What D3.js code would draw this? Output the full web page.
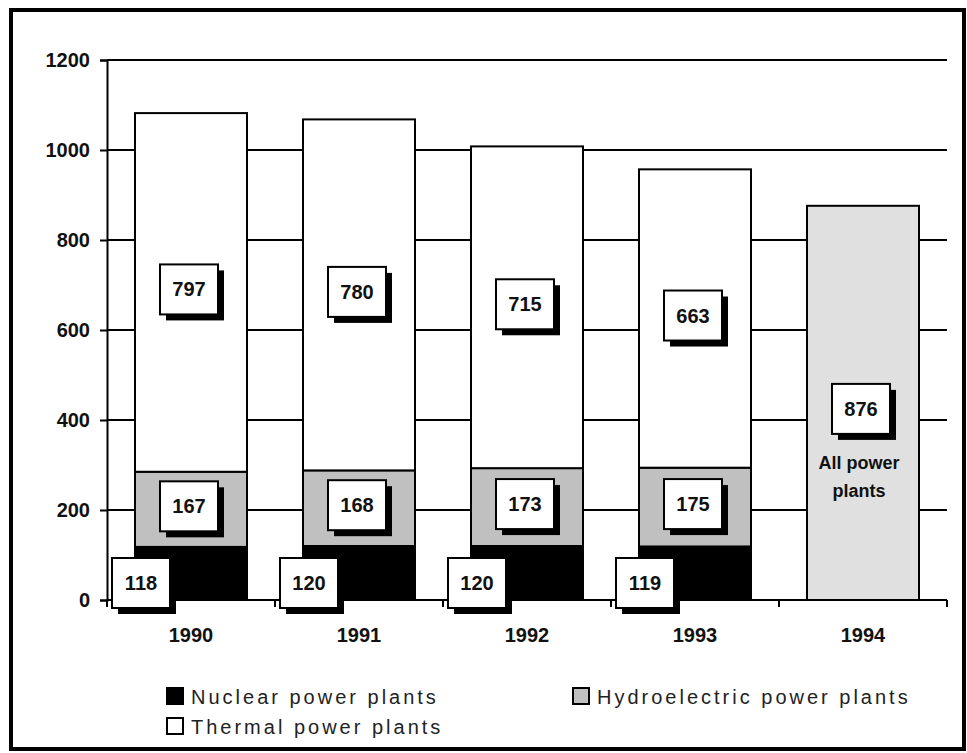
<!DOCTYPE html>
<html>
<head>
<meta charset="utf-8">
<script src="https://cdn.jsdelivr.net/npm/d3@7"></script>
<style>
  html, body { margin: 0; padding: 0; background: #fff; }
  svg { display: block; }
  text { font-family: "Liberation Sans", Arial, sans-serif; }
</style>
</head>
<body>
<script>
// ---- data ----
const years = ["1990", "1991", "1992", "1993", "1994"];
const nuclear = [118, 120, 120, 119, null];
const hydro = [167, 168, 173, 175, null];
const thermal = [797, 780, 715, 663, null];
const allPlants = [null, null, null, null, 876];
const allPlantsLabel = ["All power", "plants"];
const yTicks = [0, 200, 400, 600, 800, 1000, 1200];
const seriesNames = ["Nuclear power plants", "Hydroelectric power plants", "Thermal power plants"];

// ---- layout ----
const W = 967, H = 753;
const svg = d3.select("body").append("svg").attr("width", W).attr("height", H);

const x = d3.scaleBand().domain(years).range([107, 947]).paddingInner(1/3).paddingOuter(1/6);
const y = d3.scaleLinear().domain([0, 1200]).range([600, 60]);

// outer frame
svg.append("rect").attr("x", 11).attr("y", 10).attr("width", 953).attr("height", 739)
  .attr("fill", "none").attr("stroke", "#000").attr("stroke-width", 4);

// gridlines
svg.append("g").selectAll("line").data(yTicks.filter(d => d > 0)).join("line")
  .attr("x1", 107).attr("x2", 947).attr("y1", d => y(d)).attr("y2", d => y(d))
  .attr("stroke", "#000").attr("stroke-width", 2);

// y axis
const yAxis = svg.append("g").attr("transform", "translate(107,0)")
  .call(d3.axisLeft(y).tickValues(yTicks).tickSize(7).tickPadding(10).tickFormat(d3.format("d")));
yAxis.select(".domain").attr("stroke-width", 2);
yAxis.selectAll(".tick line").attr("stroke-width", 2);
yAxis.selectAll("text").attr("font-size", 20).attr("font-weight", "bold").attr("fill", "#111");

// stacked bars
const rows = years.map((yr, i) => ({year: yr, nuclear: nuclear[i], hydro: hydro[i], thermal: thermal[i]}))
  .filter(r => r.nuclear != null);
const keys = ["nuclear", "hydro", "thermal"];
const fills = {nuclear: "#000000", hydro: "#c0c0c0", thermal: "#ffffff"};
const stack = d3.stack().keys(keys)(rows);

const gBars = svg.append("g");
stack.forEach(layer => {
  gBars.selectAll(null).data(layer).join("rect")
    .attr("x", d => x(d.data.year))
    .attr("width", x.bandwidth())
    .attr("y", d => y(d[1]))
    .attr("height", d => y(d[0]) - y(d[1]))
    .attr("fill", fills[layer.key])
    .attr("stroke", "#000").attr("stroke-width", 2);
});

// 1994 total bar
const totals = years.map((yr, i) => ({year: yr, v: allPlants[i]})).filter(d => d.v != null);
gBars.selectAll(null).data(totals).join("rect")
  .attr("x", d => x(d.year)).attr("width", x.bandwidth())
  .attr("y", d => y(d.v)).attr("height", d => y(0) - y(d.v))
  .attr("fill", "#e0e0e0").attr("stroke", "#000").attr("stroke-width", 2);

// x axis
const xAxis = svg.append("g").attr("transform", "translate(0,600)")
  .call(d3.axisBottom(x).tickSize(0).tickPadding(28));
xAxis.select(".domain").attr("stroke-width", 2).attr("d", "M107,0H947");
xAxis.selectAll("text").attr("font-size", 20).attr("font-weight", "bold").attr("fill", "#111");
// boundary ticks
svg.append("g").selectAll("line").data(years.map((yr, i) => 107 + i * x.step()).concat([947])).join("line")
  .attr("x1", d => d).attr("x2", d => d).attr("y1", 600).attr("y2", 607)
  .attr("stroke", "#000").attr("stroke-width", 2);

// value boxes
const BW = 58, BH = 50, SH = 6;
function valueBox(cx, cy, label) {
  const g = svg.append("g");
  g.append("rect").attr("x", cx - BW / 2 + SH).attr("y", cy - BH / 2 + SH)
    .attr("width", BW).attr("height", BH).attr("fill", "#000");
  g.append("rect").attr("x", cx - BW / 2).attr("y", cy - BH / 2)
    .attr("width", BW).attr("height", BH).attr("fill", "#fff")
    .attr("stroke", "#000").attr("stroke-width", 2);
  g.append("text").attr("x", cx).attr("y", cy + 7).attr("text-anchor", "middle")
    .attr("font-size", 20).attr("font-weight", "bold").attr("fill", "#111").text(label);
}

stack.forEach(layer => {
  layer.forEach(d => {
    const v = d[1] - d[0];
    if (layer.key === "nuclear") {
      valueBox(x(d.data.year) + 6, y(0) - 17, v);
    } else {
      valueBox(x(d.data.year) + x.bandwidth() / 2 - 2, (y(d[0]) + y(d[1])) / 2 - 3, v);
    }
  });
});

totals.forEach(d => {
  const cx = x(d.year) + x.bandwidth() / 2 - 2;
  const cy = (y(0) + y(d.v)) / 2 + 6;
  valueBox(cx, cy, d.v);
  svg.append("text").attr("text-anchor", "middle")
    .attr("font-size", 18).attr("font-weight", "bold").attr("fill", "#111")
    .selectAll("tspan").data(allPlantsLabel).join("tspan")
    .attr("x", cx - 2).attr("y", (t, i) => cy + 60 + i * 28).text(t => t);
});

// legend
const legendPos = [[167, 704], [573, 704], [167, 734]];
const legendFill = ["#000000", "#c0c0c0", "#ffffff"];
seriesNames.forEach((name, i) => {
  const [lx, ly] = legendPos[i];
  svg.append("rect").attr("x", lx).attr("y", ly - 16).attr("width", 16).attr("height", 16)
    .attr("fill", legendFill[i]).attr("stroke", "#000").attr("stroke-width", 2);
  svg.append("text").attr("x", lx + 24).attr("y", ly)
    .attr("font-size", 20).attr("letter-spacing", 3).attr("fill", "#222").text(name);
});
</script>
</body>
</html>
